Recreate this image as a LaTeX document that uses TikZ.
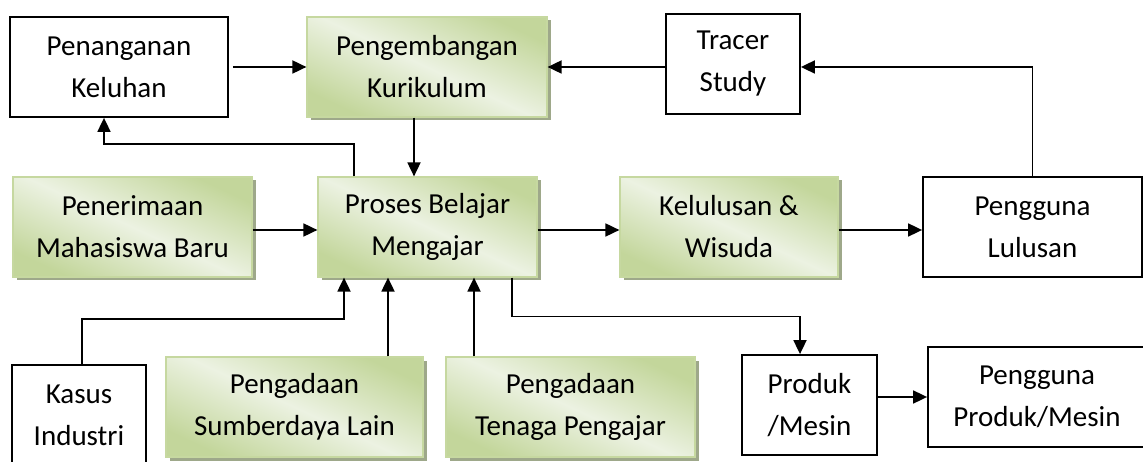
\documentclass[tikz,border=0pt]{standalone}
\usepackage{fontspec}
\setmainfont{Carlito}
\usetikzlibrary{arrows.meta,shadows,calc}
\definecolor{gdark}{RGB}{195,214,155}
\definecolor{glight}{RGB}{236,242,226}
\definecolor{gedge}{RGB}{198,216,160}
\definecolor{gshadow}{RGB}{158,168,138}

\begin{document}
\begin{tikzpicture}[x=1pt,y=-1pt,
  lbl/.style={align=center, inner sep=0pt, font=\fontsize{29}{42}\selectfont},
  box/.style={lbl, draw=black, line width=1.8pt, fill=white},
  gbox/.style={lbl, draw=gedge, line width=1.2pt,
    top color=gdark, bottom color=gdark, middle color=glight, shading angle=-25,
    drop shadow={shadow xshift=3.5pt, shadow yshift=-3.5pt, fill=gshadow, opacity=1}},
  arr/.style={line width=1.8pt, -{Triangle[length=14pt,width=13pt]}}]

\clip (0,0) rectangle (1143,462);

% top row
\node[box,  minimum width=218pt, minimum height=100pt] (pk)   at (119,67)   {Penanganan\\Keluhan};
\node[gbox, minimum width=240pt, minimum height=100pt] (pkur) at (427,67)   {Pengembangan\\Kurikulum};
\node[box,  minimum width=134pt, minimum height=100pt] (tr)   at (733,64)   {Tracer\\Study};

% middle row
\node[gbox, minimum width=239pt, minimum height=100pt] (pmb)  at (132.5,227) {Penerimaan\\Mahasiswa Baru};
\node[gbox, minimum width=219pt, minimum height=100pt] (pbm)  at (427.5,227) {Proses Belajar\\Mengajar};
\node[gbox, minimum width=218pt, minimum height=100pt] (kel)  at (729,227)   {Kelulusan \&\\Wisuda};
\node[box,  minimum width=219pt, minimum height=100pt] (pl)   at (1032.5,227) {Pengguna\\Lulusan};

% bottom row
\node[box,  minimum width=134pt, minimum height=100pt] (ki)   at (79,415)    {Kasus\\Industri};
\node[gbox, minimum width=257pt, minimum height=100pt] (sdl)  at (294.5,407) {Pengadaan\\Sumberdaya Lain};
\node[gbox, minimum width=249pt, minimum height=100pt] (tp)   at (570.5,407) {Pengadaan\\Tenaga Pengajar};
\node[box,  minimum width=135pt, minimum height=100pt] (pm)   at (809.5,405) {Produk\\/Mesin};
\node[box,  minimum width=218pt, minimum height=100pt] (ppm)  at (1037,397)  {Pengguna\\Produk/Mesin};

% connectors
\draw[arr] ([xshift=4pt]pk.east) -- (pkur.west);
\draw[arr] (tr.west |- pkur.east) -- (pkur.east);
\draw[arr] (pl.north) |- (tr.east |- pkur.east);
\draw[arr] ([xshift=-13pt]pkur.south) -- ([xshift=-13.5pt]pbm.north);
\draw[arr] ([xshift=-73.5pt]pbm.north) -- ++(0,-32) -| ([xshift=-15pt]pk.south);
\draw[arr] ([yshift=-3pt]pmb.east) -- ([yshift=-3pt]pbm.west);
\draw[arr] ([yshift=-3pt]pbm.east) -- ([yshift=-3pt]kel.west);
\draw[arr] ([yshift=-3pt]kel.east) -- ([yshift=-3pt]pl.west);
\draw[arr] ([xshift=3pt]ki.north) -- ++(0,-45) -| ([xshift=-83.5pt]pbm.south);
\draw[arr] ([xshift=93.5pt]sdl.north) -- ([xshift=-39.5pt]pbm.south);
\draw[arr] ([xshift=-96.5pt]tp.north) -- ([xshift=46.5pt]pbm.south);
\draw[arr] ([xshift=84.5pt]pbm.south) -- ++(0,39) -| ([xshift=-9.5pt]pm.north);
\draw[arr] (pm.east |- ppm.west) -- (ppm.west);
\end{tikzpicture}
\end{document}
